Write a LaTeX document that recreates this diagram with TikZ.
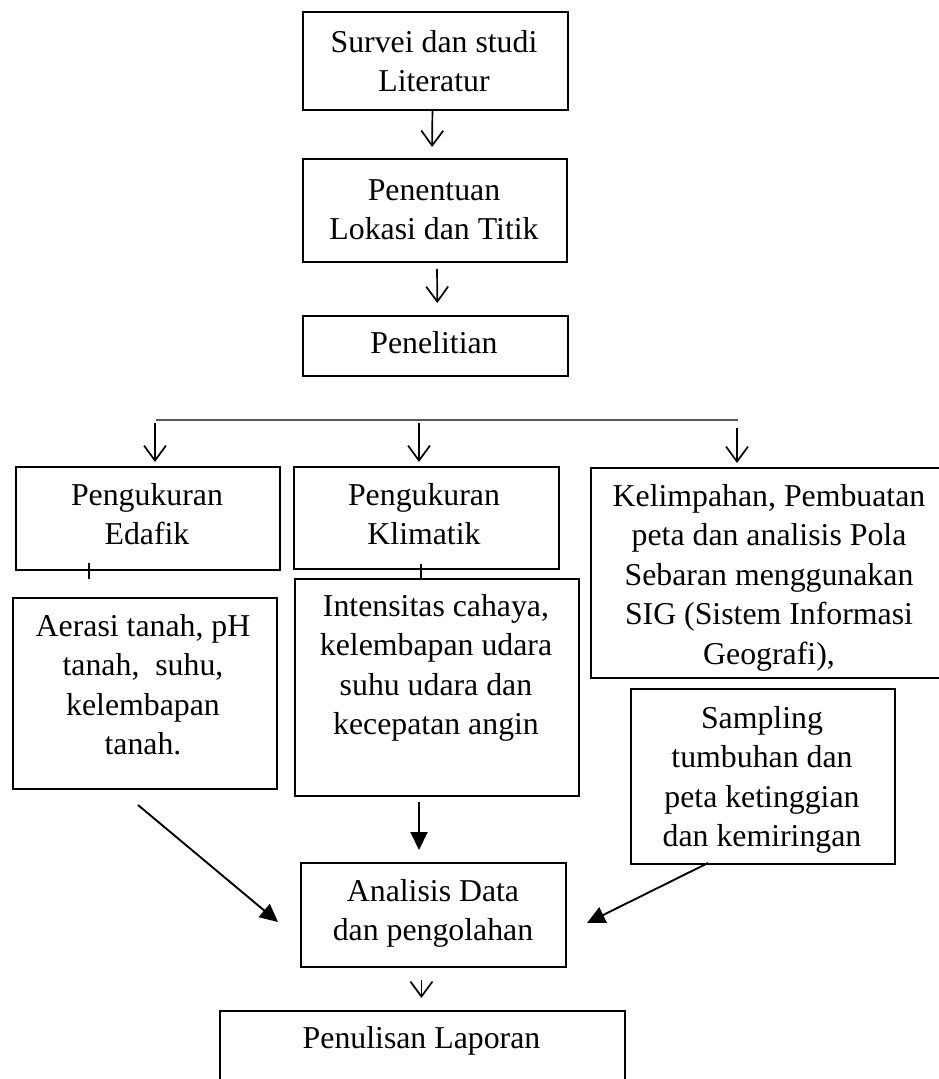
\documentclass[tikz,border=0pt]{standalone}
\usepackage{fontspec}
\setmainfont{Liberation Serif}
\usetikzlibrary{arrows.meta,calc}
\begin{document}
\begin{tikzpicture}[x=1pt,y=-1pt,
  box/.style={draw, line width=1.9pt, inner sep=0pt, anchor=north west},
  txt/.style={align=center, inner sep=0pt, anchor=base, font=\fontsize{31.8}{39.5}\selectfont},
  openarr/.style={line width=1.7pt, -{Straight Barb[length=15pt,width=22pt,line width=1.7pt]}},
  fillarr/.style={line width=1.9pt, -{Triangle[length=18pt,width=17pt]}},
  tick/.style={line width=1.4pt}]
\useasboundingbox (0,0) rectangle (939,1079);
\clip (0,0) rectangle (939,1079);
\fill[white] (0,0) rectangle (939,1079);
% boxes
\node[box, minimum width=265pt, minimum height=98pt] (surv) at (302,11) {};
\node[box, minimum width=264pt, minimum height=103pt] (pen) at (302,158) {};
\node[box, minimum width=265pt, minimum height=60pt] (peli) at (302,315) {};
\node[box, minimum width=264pt, minimum height=103pt] (eda) at (15,466) {};
\node[box, minimum width=265pt, minimum height=102pt] (kli) at (293,466) {};
\node[box, minimum width=358pt, minimum height=210pt] (kel) at (590,467) {};
\node[box, minimum width=264pt, minimum height=191pt] (aer) at (12,597) {};
\node[box, minimum width=284pt, minimum height=217pt] (int) at (294,578) {};
\node[box, minimum width=264pt, minimum height=175pt] (samp) at (630,688) {};
\node[box, minimum width=265pt, minimum height=104pt] (ana) at (300,862) {};
\node[box, minimum width=405pt, minimum height=110pt] (lap) at (219,1010) {};
% texts (base = baseline of last line)
\node[txt] (tsurv) at (434,91.5) {Survei dan studi\\Literatur};
\node[txt] (tpen) at (434,239.5) {Penentuan\\Lokasi dan Titik};
\node[txt] (tpeli) at (434,353) {Penelitian};
\node[txt] (teda) at (147,544.5) {Pengukuran\\Edafik};
\node[txt] (tkli) at (424,544.5) {Pengukuran\\Klimatik};
\node[txt] (taer) at (143,754.5) {Aerasi tanah, pH\\tanah,\ \ suhu,\\kelembapan\\tanah.};
\node[txt] (tint) at (436,734.5) {Intensitas cahaya,\\kelembapan udara\\suhu udara dan\\kecepatan angin};
\node[txt] (tkel) at (769,664) {Kelimpahan, Pembuatan\\peta dan analisis Pola\\Sebaran menggunakan\\SIG (Sistem Informasi\\Geografi),};
\node[txt] (tsamp) at (762,846.5) {Sampling\\tumbuhan dan\\peta ketinggian\\dan kemiringan};
\node[txt] (tana) at (433,940.5) {Analisis Data\\dan pengolahan};
\node[txt] (tlap) at (421.5,1048) {Penulisan Laporan};
% coordinates
\coordinate (hl1) at (156,420);
\coordinate (hl2) at (738,420);
\coordinate (b1) at (155,423);
\coordinate (b2) at (419,423);
\coordinate (b3) at (737,428);
\coordinate (tk1) at (89,563);
\coordinate (tk2) at (421,564);
\coordinate (xi) at (419,0);
\coordinate (a1) at (138,805);
\coordinate (a2) at (278,922);
\coordinate (s1) at (708,863);
\coordinate (s2) at (587,923);
% connectors
\draw[openarr, shorten >=11pt] ([xshift=-3pt]surv.south) -- ([xshift=-3pt]pen.north);
\draw[openarr, shorten <=6pt, shorten >=12pt] ([xshift=2pt]pen.south) -- ([xshift=2pt]peli.north);
\draw[line width=1.4pt, black!65] (hl1) -- (hl2);
\draw[openarr, shorten >=4pt] (b1) -- (b1 |- eda.north);
\draw[openarr, shorten >=4pt] (b2) -- (b2 |- kli.north);
\draw[openarr, shorten >=4pt] (b3) -- (b3 |- kel.north);
\draw[tick] (tk1) -- ++(0,16);
\draw[tick] (tk2) -- ++(0,16);
\draw[fillarr, shorten <=5pt, shorten >=12pt] (int.south -| xi) -- (ana.north -| xi);
\draw[fillarr] (a1) -- (a2);
\draw[fillarr] (s1) -- (s2);
\draw[openarr, shorten <=12pt, shorten >=12pt] ([xshift=-12pt]ana.south) -- ([xshift=-12pt]ana.south |- lap.north);
\end{tikzpicture}
\end{document}
